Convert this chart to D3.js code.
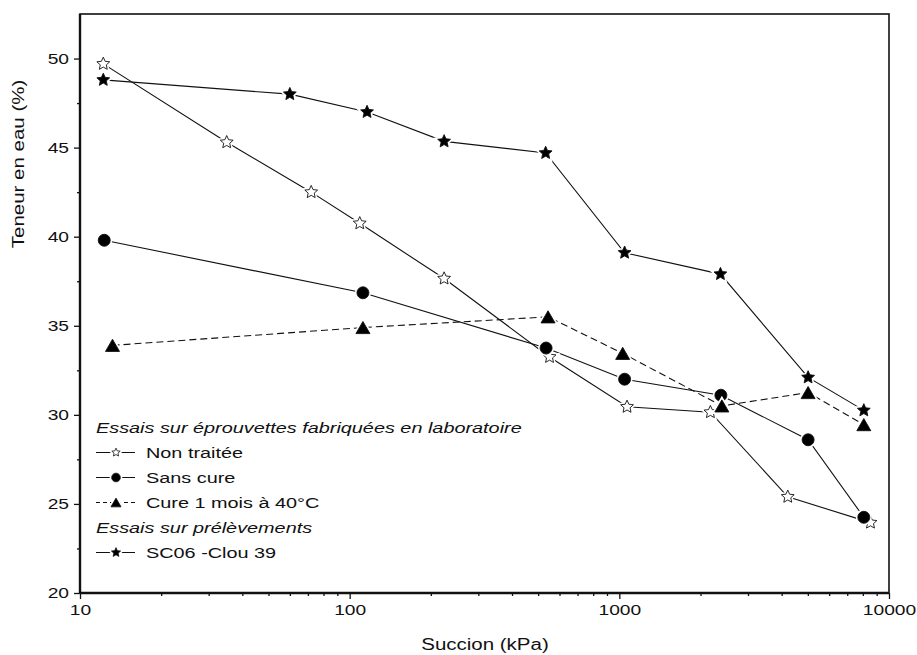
<!DOCTYPE html>
<html>
<head>
<meta charset="utf-8">
<script src="https://cdn.jsdelivr.net/npm/d3@7"></script>
<style>
  body { margin: 0; background: #fff; }
  text { font-family: "Liberation Sans", Arial, sans-serif; fill: #111; }
</style>
</head>
<body>
<svg width="917" height="655"></svg>
<script>
// suction (kPa) and water content (%)
var nonTraiteeSuction = [12.2, 35, 72, 109, 224, 551, 1068, 2176, 4213, 8537];
var nonTraiteeTeneur  = [49.7, 45.3, 42.5, 40.75, 37.65, 33.25, 30.45, 30.15, 25.4, 23.95];

var sansCureSuction = [12.3, 112, 535, 1046, 2380, 5012, 8065];
var sansCureTeneur  = [39.8, 36.85, 33.75, 32.0, 31.1, 28.6, 24.25];

var cureSuction = [13.2, 112, 544, 1029, 2400, 5012, 8065];
var cureTeneur  = [33.9, 34.9, 35.5, 33.45, 30.5, 31.25, 29.45];

var sc06Suction = [12.2, 60, 116, 224, 533, 1046, 2371, 5012, 8065];
var sc06Teneur  = [48.8, 48.0, 47.0, 45.35, 44.7, 39.1, 37.9, 32.1, 30.25];

var xMajorTicks = [10, 100, 1000, 10000];
var yMajorTicks = [20, 25, 30, 35, 40, 45, 50];
var yMinorTicks = [22.5, 27.5, 32.5, 37.5, 42.5, 47.5];

var svg = d3.select("svg"),
    margin = {top: 14, right: 28, bottom: 62, left: 80},
    width = +svg.attr("width") - margin.left - margin.right,
    height = +svg.attr("height") - margin.top - margin.bottom;

var STRETCH = 1.28; // the scanned font is much wider than Arial

function stretch(sel) {
    sel.each(function() {
        var len = this.getComputedTextLength();
        d3.select(this).attr("textLength", len * STRETCH).attr("lengthAdjust", "spacingAndGlyphs");
    });
}

// a chunkier five-point star than d3.symbolStar
var fatStar = {
    draw: function(context, size) {
        var R = Math.sqrt(size / 2.2), r = R * 0.47;
        for (var i = 0; i < 10; i++) {
            var rad = i % 2 ? r : R,
                a = -Math.PI / 2 + i * Math.PI / 5;
            if (i === 0) context.moveTo(rad * Math.cos(a), rad * Math.sin(a));
            else context.lineTo(rad * Math.cos(a), rad * Math.sin(a));
        }
        context.closePath();
    }
};

var g = svg.append("g")
    .attr("transform", "translate(" + margin.left + "," + margin.top + ")");

var x = d3.scaleLog().domain([10, 10000]).range([0, width]);
var y = d3.scaleLinear().domain([20, 52.5]).range([height, 0]);

// minor x ticks 2..9 of each decade
var xMinorTicks = [];
[10, 100, 1000].forEach(function(d) {
    for (var k = 2; k <= 9; k++) xMinorTicks.push(d * k);
});

// axes
g.append("g")
    .attr("class", "axis axis--x")
    .attr("transform", "translate(0," + height + ")")
    .call(d3.axisBottom(x).tickValues(xMajorTicks).tickFormat(d3.format("d")).tickSize(6).tickSizeOuter(0).tickPadding(5));
g.append("g")
    .attr("transform", "translate(0," + height + ")")
    .call(d3.axisBottom(x).tickValues(xMinorTicks).tickFormat("").tickSize(3).tickSizeOuter(0));

g.append("g")
    .attr("class", "axis axis--y")
    .call(d3.axisLeft(y).tickValues(yMajorTicks).tickSize(6).tickSizeOuter(0).tickPadding(5));
g.append("g")
    .call(d3.axisLeft(y).tickValues(yMinorTicks).tickFormat("").tickSize(3).tickSizeOuter(0));

g.selectAll(".domain").remove();
g.selectAll(".tick line").attr("stroke", "#111").attr("stroke-width", 1.3);
g.selectAll(".axis text").attr("font-size", 15).style("font-family", "'Liberation Sans', Arial, sans-serif").attr("fill", "#111");
stretch(g.selectAll(".axis text"));

// frame
g.append("rect")
    .attr("width", width)
    .attr("height", height)
    .attr("fill", "none")
    .attr("stroke", "#111")
    .attr("stroke-width", 1.6);
g.append("line").attr("x1", 0).attr("x2", 0).attr("y1", 0).attr("y2", height)
    .attr("stroke", "#111").attr("stroke-width", 2.4);
g.append("line").attr("x1", 0).attr("x2", width).attr("y1", height).attr("y2", height)
    .attr("stroke", "#111").attr("stroke-width", 2.4);

// axis titles
svg.append("text")
    .attr("transform", "translate(24," + 164 + ") rotate(-90)")
    .attr("text-anchor", "middle")
    .attr("font-size", 16)
    .text("Teneur en eau (%)")
    .call(stretch);

svg.append("text")
    .attr("x", 485)
    .attr("y", 650)
    .attr("text-anchor", "middle")
    .attr("font-size", 16)
    .text("Succion (kPa)")
    .call(stretch);

// series
var series = [
    {name: "Non traitée", xs: nonTraiteeSuction, ys: nonTraiteeTeneur, shape: "star", fill: "#fff", dash: null},
    {name: "Sans cure", xs: sansCureSuction, ys: sansCureTeneur, shape: "circle", fill: "#000", dash: null},
    {name: "Cure 1 mois à 40°C", xs: cureSuction, ys: cureTeneur, shape: "triangle", fill: "#000", dash: "7,4"},
    {name: "SC06 -Clou 39", xs: sc06Suction, ys: sc06Teneur, shape: "star", fill: "#000", dash: null}
];

function symbolPath(shape, scale) {
    if (shape === "star") return d3.symbol(fatStar).size(100 * scale * scale)();
    if (shape === "circle") return d3.symbol(d3.symbolCircle).size(113 * scale * scale)();
    return d3.symbol(d3.symbolTriangle).size(85 * scale * scale)();
}
function symbolOffset(shape, scale) {
    return shape === "triangle" ? 2 * scale : 0; // centre triangle on its box
}

var line = d3.line()
    .x(function(d) { return x(d[0]); })
    .y(function(d) { return y(d[1]); });

series.forEach(function(s) {
    var pts = s.xs.map(function(v, i) { return [v, s.ys[i]]; });
    g.append("path")
        .datum(pts)
        .attr("fill", "none")
        .attr("stroke", "#111")
        .attr("stroke-width", 1.1)
        .attr("stroke-dasharray", s.dash)
        .attr("d", line);
});

series.forEach(function(s) {
    var pts = s.xs.map(function(v, i) { return [v, s.ys[i]]; });
    var p = symbolPath(s.shape, 1), off = symbolOffset(s.shape, 1);
    var mk = g.append("g").selectAll("g")
        .data(pts)
        .enter().append("g")
        .attr("transform", function(d) { return "translate(" + x(d[0]) + "," + (y(d[1]) + off) + ")"; });
    // white halo gives the small gap between line and symbol
    mk.append("path").attr("d", p).attr("fill", "#fff").attr("stroke", "#fff").attr("stroke-width", 4);
    mk.append("path").attr("d", p).attr("fill", s.fill).attr("stroke", "#111").attr("stroke-width", 0.9);
});

// legend
var legend = svg.append("g");
var rowY = [433, 458, 483, 508, 533, 558];

legend.append("text")
    .attr("x", 96).attr("y", rowY[0])
    .attr("font-size", 15.5).attr("font-style", "italic")
    .text("Essais sur éprouvettes fabriquées en laboratoire")
    .call(stretch);
legend.append("text")
    .attr("x", 96).attr("y", rowY[4])
    .attr("font-size", 15.5).attr("font-style", "italic")
    .text("Essais sur prélèvements")
    .call(stretch);

var legendRows = [rowY[1], rowY[2], rowY[3], rowY[5]];
series.forEach(function(s, i) {
    var cy = legendRows[i] - 5.5;
    legend.append("line")
        .attr("x1", 96).attr("x2", 135)
        .attr("y1", cy).attr("y2", cy)
        .attr("stroke", "#111").attr("stroke-width", 1.1)
        .attr("stroke-dasharray", s.dash ? "4,3" : null);
    var sc = s.shape === "star" && s.fill === "#fff" ? 0.65 : 0.72;
    var p = symbolPath(s.shape, sc);
    var mk = legend.append("g")
        .attr("transform", "translate(116," + (cy + symbolOffset(s.shape, sc)) + ")");
    mk.append("path").attr("d", p).attr("fill", "#fff").attr("stroke", "#fff").attr("stroke-width", 4);
    mk.append("path").attr("d", p).attr("fill", s.fill).attr("stroke", "#111").attr("stroke-width", 0.8);
    legend.append("text")
        .attr("x", 146).attr("y", legendRows[i])
        .attr("font-size", 15.5)
        .text(s.name)
        .call(stretch);
});
</script>
</body>
</html>
